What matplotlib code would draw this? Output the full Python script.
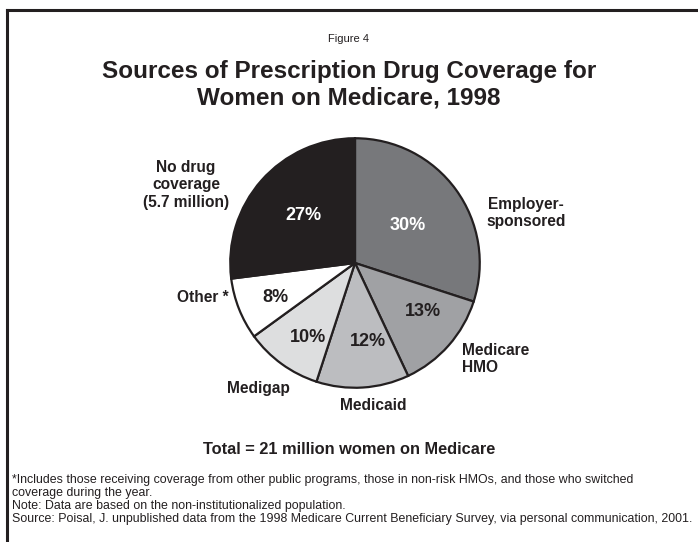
import matplotlib
matplotlib.use("Agg")
import matplotlib.pyplot as plt
from matplotlib.lines import Line2D

# slices go clockwise from 12 o'clock
categories = ["Employer-\nsponsored", "Medicare\nHMO", "Medicaid", "Medigap",
              "Other *", "No drug\ncoverage\n(5.7 million)"]
shares = [30, 13, 12, 10, 8, 27]
colors = ["#77787b", "#a0a1a4", "#bcbdc0", "#dddedf", "#ffffff", "#231f20"]
pct_colors = ["white", "#231f20", "#231f20", "#231f20", "#231f20", "white"]

title = "Sources of Prescription Drug Coverage for\nWomen on Medicare, 1998"
total_text = "Total = 21 million women on Medicare"
notes = ("*Includes those receiving coverage from other public programs, those in non-risk HMOs, and those who switched\n"
         "coverage during the year.\n"
         "Note: Data are based on the non-institutionalized population.\n"
         "Source: Poisal, J. unpublished data from the 1998 Medicare Current Beneficiary Survey, via personal communication, 2001.")

W, H = 698, 542
plt.rcParams['font.family'] = ['Liberation Sans', 'DejaVu Sans']
fig = plt.figure(figsize=(W / 100, H / 100), dpi=100)


def px(x, y):
    return x / W, 1 - y / H


# frame: top and left lines only
fig.add_artist(Line2D([7 / W, 1], [1 - 10 / H, 1 - 10 / H], color="#231f20", lw=2.2))
fig.add_artist(Line2D([7 / W, 7 / W], [0, 1 - 10 / H], color="#231f20", lw=2.2))

fig.text(*px(349, 39), "Figure 4", ha="center", va="center", fontsize=8, color="#231f20")
fig.text(*px(349, 85), title, ha="center", va="center", fontsize=17.5,
         fontweight="bold", color="#231f20", linespacing=1.2)

# pie
cx, cy, r = 355, 263, 126
ax = fig.add_axes([(cx - r) / W, 1 - (cy + r) / H, 2 * r / W, 2 * r / H])
wedges, _ = ax.pie(shares, colors=colors, startangle=90, counterclock=False,
                   wedgeprops=dict(edgecolor="#231f20", linewidth=1.6))
ax.set_xlim(-1.01, 1.01)
ax.set_ylim(-1.01, 1.01)
ax.set_aspect("auto")
ax.axis("off")

# percent labels
pct_pos = [(408, 225), (423, 312), (368, 342), (308, 337), (275, 298), (303, 215)]
for s, (x, y), c in zip(shares, pct_pos, pct_colors):
    fig.text(*px(x, y), f"{s}%", ha="center", va="center", fontsize=13,
             fontweight="bold", color=c)

# category labels
cat_pos = [(526, 213, "center"), (462, 359, "left"), (373, 405, "center"),
           (258, 388, "center"), (203, 297, "center"), (186, 185, "center")]
for lab, (x, y, ha) in zip(categories, cat_pos):
    fig.text(*px(x, y), lab, ha=ha, va="center", fontsize=11.2,
             fontweight="bold", color="#231f20", linespacing=1.2)

fig.text(*px(349, 450), total_text, ha="center", va="center", fontsize=11.8,
         fontweight="bold", color="#231f20")
fig.text(*px(12, 474), notes, ha="left", va="top", fontsize=8.9,
         color="#231f20", linespacing=1.12)

fig.savefig("out.png", dpi=100)
